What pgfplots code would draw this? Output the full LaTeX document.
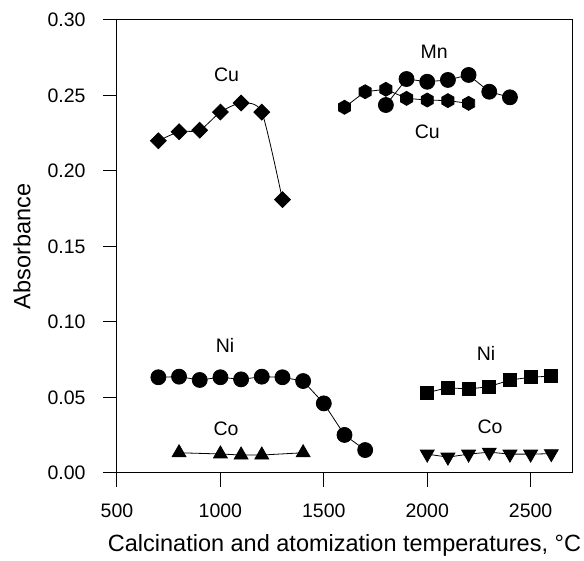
\documentclass[border=0pt]{standalone}
\usepackage{fontspec}
\setmainfont{Liberation Sans}
\usepackage{pgfplots}
\pgfplotsset{compat=1.18}

% filled hexagon mark (pointy top)
\pgfdeclareplotmark{hexagon*}{%
  \pgfpathmoveto{\pgfqpointpolar{90}{\pgfplotmarksize}}%
  \pgfpathlineto{\pgfqpointpolar{150}{\pgfplotmarksize}}%
  \pgfpathlineto{\pgfqpointpolar{210}{\pgfplotmarksize}}%
  \pgfpathlineto{\pgfqpointpolar{270}{\pgfplotmarksize}}%
  \pgfpathlineto{\pgfqpointpolar{330}{\pgfplotmarksize}}%
  \pgfpathlineto{\pgfqpointpolar{30}{\pgfplotmarksize}}%
  \pgfpathclose
  \pgfusepathqfillstroke}

\begin{document}
\begin{tikzpicture}
\useasboundingbox (-117pt,-88pt) rectangle (467pt,473pt);
\begin{axis}[at={(0,0)},anchor=south west,width=455pt,height=453pt,scale only axis,
 xmin=500,xmax=2700,ymin=0,ymax=0.30,
 xtick={500,1000,...,2500},ytick={0,0.05,...,0.30},
 xtick pos=bottom,ytick pos=left,tick align=outside,major tick length=14pt,
 axis line style={line width=1pt},tick style={line width=1pt,black},
 /pgf/number format/assume math mode=true,
 xticklabel style={yshift=-13pt,/pgf/number format/1000 sep={}},
 yticklabel style={xshift=-14pt,/pgf/number format/.cd,fixed,fixed zerofill,precision=2},
 tick label style={font=\fontsize{19.5}{21}\selectfont},
 label style={font=\fontsize{23.5}{26}\selectfont},
 xlabel={Calcination and atomization temperatures, °C},
 ylabel={Absorbance},
 xlabel style={at={(axis description cs:0.5,0)},anchor=center,yshift=-72pt},
 ylabel style={at={(axis description cs:0,0.5)},anchor=center,rotate=0,yshift=95pt},
 every axis plot/.append style={black,line width=0.8pt},
 clip=false]
% Cu (calcination)
\addplot[smooth,tension=0.4,mark=square*,mark size=5.6pt,mark options={rotate=45}] coordinates {
 (700,0.220) (800,0.226) (900,0.227) (1000,0.239) (1100,0.245) (1200,0.239) (1300,0.181)};
% Ni (calcination)
\addplot[mark=*,mark size=7.5pt] coordinates {
 (700,0.0634) (800,0.0638) (900,0.0616) (1000,0.0634) (1100,0.0620) (1200,0.0638)
 (1300,0.0634) (1400,0.0609) (1500,0.0461) (1600,0.0252) (1700,0.0152)};
% Co (calcination)
\addplot[mark=triangle*,mark size=8pt] coordinates {
 (800,0.0134) (1000,0.0126) (1100,0.0119) (1200,0.0119) (1400,0.0134)};
% Cu (atomization)
\addplot[mark=hexagon*,mark size=7pt] coordinates {
 (1600,0.2422) (1700,0.2525) (1800,0.2541) (1900,0.2481) (2000,0.2470) (2100,0.2466) (2200,0.2448)};
% Mn (atomization)
\addplot[mark=*,mark size=7.5pt] coordinates {
 (1800,0.2437) (1900,0.2609) (2000,0.2591) (2100,0.2603) (2200,0.2636) (2300,0.2525) (2400,0.2488)};
% Ni (atomization)
\addplot[mark=square*,mark size=6.5pt] coordinates {
 (2000,0.0532) (2100,0.0565) (2200,0.0556) (2300,0.0572) (2400,0.0616) (2500,0.0634) (2600,0.0642)};
% Co (atomization)
\addplot[mark=triangle*,mark size=8pt,mark options={rotate=180}] coordinates {
 (2000,0.0125) (2100,0.0105) (2200,0.0125) (2300,0.0138) (2400,0.0125) (2500,0.0125) (2600,0.0128)};
\begin{scope}[font=\fontsize{19.5}{21}\selectfont]
\node at (axis cs:1030,0.2636) {Cu};
\node at (axis cs:2033,0.279) {Mn};
\node at (axis cs:2000,0.226) {Cu};
\node at (axis cs:1022,0.0848) {Ni};
\node at (axis cs:1027,0.0296) {Co};
\node at (axis cs:2284,0.0793) {Ni};
\node at (axis cs:2304,0.0307) {Co};
\end{scope}
\end{axis}
\end{tikzpicture}
\end{document}
